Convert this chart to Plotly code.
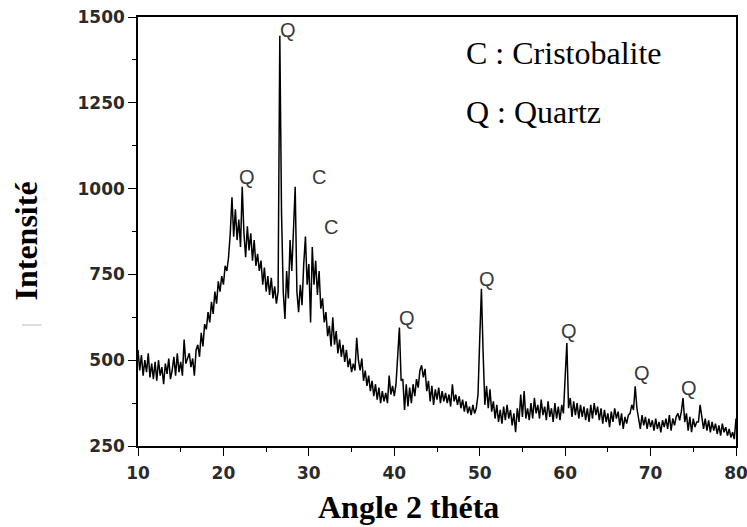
import numpy as np
import plotly.graph_objects as go

# 2-theta sampling grid (degrees)
angle = np.round(np.arange(10.0, 80.0001, 0.2), 1)

# Intensity, one row per 2 degrees (10 points each), last point at 80
intensity = [
    530, 470, 515, 455, 500, 465, 520, 450, 490, 445,   # 10-12
    495, 440, 500, 455, 480, 430, 490, 460, 505, 445,   # 12-14
    470, 510, 455, 520, 465, 495, 455, 560, 490, 505,   # 14-16
    520, 480, 505, 455, 530, 545, 510, 580, 540, 605,   # 16-18
    590, 640, 610, 670, 635, 700, 665, 730, 700, 745,   # 18-20
    720, 775, 760, 800, 870, 975, 860, 940, 850, 910,   # 20-22
    830, 1005, 870, 800, 890, 820, 870, 790, 850, 775,  # 22-24
    810, 760, 790, 720, 770, 700, 745, 690, 740, 680,   # 24-26
    715, 665, 700, 1445, 930, 700, 620, 760, 680, 850,  # 26-28
    760, 880, 1005, 700, 640, 720, 660, 780, 860, 720,  # 28-30
    780, 610, 830, 720, 790, 690, 760, 650, 680, 610,   # 30-32
    640, 570, 600, 540, 625, 545, 585, 520, 560, 510,   # 32-34
    545, 495, 530, 480, 505, 465, 490, 470, 565, 500,   # 34-36
    470, 505, 440, 470, 425, 455, 410, 440, 395, 430,   # 36-38
    385, 420, 375, 410, 380, 405, 375, 455, 400, 425,   # 38-40
    395, 430, 510, 595, 440, 445, 355, 430, 365, 420,   # 40-42
    375, 430, 395, 445, 420, 470, 485, 450, 475, 410,   # 42-44
    440, 380, 425, 370, 415, 385, 420, 375, 410, 380,   # 44-46
    405, 375, 400, 365, 430, 380, 400, 370, 395, 360,   # 46-48
    385, 350, 380, 345, 365, 340, 370, 345, 360, 400,   # 48-50
    560, 708, 520, 370, 425, 360, 415, 350, 380, 330,   # 50-52
    370, 320, 355, 315, 365, 325, 370, 330, 355, 310,   # 52-54
    345, 290, 360, 320, 400, 335, 410, 330, 360, 325,   # 54-56
    375, 330, 390, 345, 370, 330, 385, 340, 365, 325,   # 56-58
    380, 335, 360, 320, 375, 330, 365, 325, 370, 345,   # 58-60
    450, 550, 360, 390, 335, 380, 340, 375, 330, 370,   # 60-62
    335, 365, 325, 360, 320, 370, 330, 375, 340, 365,   # 62-64
    325, 360, 315, 355, 320, 345, 305, 350, 320, 360,   # 64-66
    330, 350, 310, 345, 300, 335, 315, 340, 345, 370,   # 66-68
    355, 424, 360, 330, 300, 340, 310, 335, 300, 330,   # 68-70
    305, 325, 295, 330, 300, 320, 290, 325, 305, 330,   # 70-72
    300, 340, 295, 330, 310, 335, 345, 325, 350, 390,   # 72-74
    320, 345, 295, 335, 290, 330, 305, 320, 320, 370,   # 74-76
    340, 300, 330, 295, 325, 290, 320, 295, 315, 285,   # 76-78
    310, 280, 315, 290, 305, 280, 300, 275, 290, 270,   # 78-80
    330,
]

# Peak labels
peak_labels = ["Q", "Q", "C", "C", "Q", "Q", "Q", "Q", "Q"]
peak_x = [27.5, 22.8, 31.2, 32.6, 41.5, 50.9, 60.4, 69.0, 74.5]
peak_y = [1463, 1033, 1033, 887, 623, 737, 585, 462, 418]

legend_lines = ["C : Cristobalite", "Q : Quartz"]
legend_y = [1395, 1222]

x_ticks = [10, 20, 30, 40, 50, 60, 70, 80]
y_ticks = [250, 500, 750, 1000, 1250, 1500]

fig = go.Figure()
fig.add_trace(go.Scatter(x=angle, y=intensity, mode="lines",
                         line=dict(color="black", width=1.5),
                         showlegend=False, hoverinfo="skip"))

for lab, px, py in zip(peak_labels, peak_x, peak_y):
    fig.add_annotation(x=px, y=py, text=lab, showarrow=False,
                       font=dict(family="Liberation Sans, Arial", size=20, color="#3a3a3a"))

for txt, ly in zip(legend_lines, legend_y):
    fig.add_annotation(x=48.2, y=ly, text=txt, showarrow=False, xanchor="left",
                       font=dict(family="Liberation Serif, Times New Roman", size=32, color="black"))

serif_bold = dict(family="Liberation Serif, Times New Roman", size=32, color="black", weight="bold")
fig.add_annotation(xref="paper", yref="paper", x=0.453, y=-0.142, text="Angle 2 théta",
                   showarrow=False, xanchor="center", yanchor="middle", font=serif_bold)
fig.add_annotation(xref="paper", yref="paper", x=-0.188, y=0.478, text="Intensité",
                   showarrow=False, textangle=-90, xanchor="center", yanchor="middle", font=serif_bold)

tickfont = dict(family="DejaVu Sans", size=17, color="#2a2a2a", weight="bold")

fig.update_xaxes(range=[10, 80], tickvals=x_ticks, ticks="outside", ticklen=8,
                 tickwidth=1.3, tickcolor="black", showline=True, linecolor="black",
                 linewidth=1.5, mirror=True, showgrid=False, zeroline=False,
                 tickfont=tickfont, automargin=False, ticklabelstandoff=3,
                 ticklabeloverflow="allow",
                 minor=dict(ticks="outside", ticklen=4, dtick=5, tick0=10, tickcolor="black", showgrid=False))
fig.update_yaxes(range=[250, 1500], tickvals=y_ticks, ticks="outside", ticklen=8,
                 tickwidth=1.3, tickcolor="black", showline=True, linecolor="black",
                 linewidth=1.5, mirror=True, showgrid=False, zeroline=False,
                 tickfont=tickfont, automargin=False, ticklabeloverflow="allow",
                 minor=dict(ticks="outside", ticklen=4, dtick=125, tick0=250, tickcolor="black", showgrid=False))

fig.add_shape(type="line", xref="paper", yref="paper", x0=-0.194, x1=-0.161, y0=0.282, y1=0.282,
              line=dict(color="#bbbbbb", width=1))

fig.update_layout(width=747, height=527, margin=dict(l=138, r=11, t=17, b=81),
                  plot_bgcolor="white", paper_bgcolor="white")

fig.write_html("out.html")
